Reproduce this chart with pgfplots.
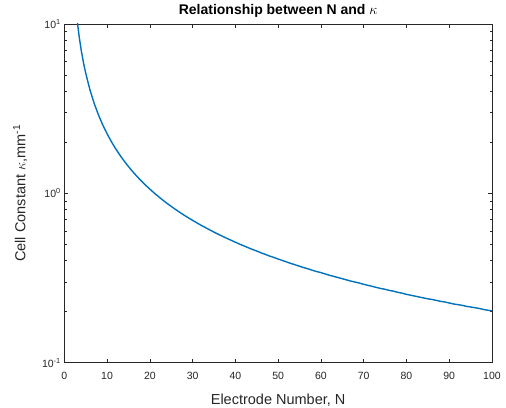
\documentclass[border=0pt]{standalone}
\usepackage{pgfplots}
\pgfplotsset{compat=1.18}
\usepackage{fontspec}
\setmainfont{Liberation Sans}
\definecolor{mblue}{rgb}{0,0.447,0.741}
\definecolor{axgray}{rgb}{0.15,0.15,0.15}
\begin{document}
\begin{tikzpicture}
\begin{axis}[
  name=ax,
  scale only axis,
  width=427.7pt, height=338.6pt,
  xmin=0, xmax=100,
  ymode=log, ymin=0.1, ymax=10,
  xtick={0,10,...,100},
  ytick={0.1,1,10},
  yticklabels={{10\textsuperscript{-1}},{10\textsuperscript{0}},{10\textsuperscript{1}}},
  /pgf/number format/assume math mode=true,
  tick align=inside,
  major tick length=4pt,
  minor tick length=2.5pt,
  axis line style={axgray, line width=0.6pt},
  every tick/.style={axgray, line width=0.5pt},
  tick label style={font=\fontsize{10.5}{12}\selectfont, text=axgray},
  xticklabel style={yshift=-6pt},
  label style={font=\fontsize{14.5}{16}\selectfont, text=axgray},
  xlabel={Electrode Number, N},
  ylabel={Cell Constant $\kappa$,mm\textsuperscript{-1}},
  title={\textbf{Relationship between N and $\kappa$}},
  title style={font=\fontsize{14}{16}\selectfont, yshift=-3pt},
  xlabel style={yshift=-8pt},
  ylabel style={yshift=8pt},
]
\addplot[mblue, line width=1.4pt] coordinates {
(3,10.526)(3.5,8.333)(4,6.897)(4.5,5.882)(5,5.128)(6,4.082)(7,3.390)(8,2.899)(9,2.532)(10,2.247)
(11,2.020)(12,1.835)(13,1.681)(14,1.550)(15,1.439)(16,1.342)(17,1.258)(18,1.183)(19,1.117)(20,1.058)
(21,1.005)(22,0.957)(23,0.913)(24,0.873)(25,0.837)(26,0.803)(27,0.772)(28,0.743)(29,0.717)(30,0.692)
(31,0.669)(32,0.647)(33,0.627)(34,0.608)(35,0.590)(36,0.573)(37,0.557)(38,0.542)(39,0.528)(40,0.514)
(41,0.501)(42,0.489)(43,0.477)(44,0.466)(45,0.456)(46,0.445)(47,0.436)(48,0.426)(49,0.418)(50,0.409)
(51,0.401)(52,0.393)(53,0.385)(54,0.378)(55,0.371)(56,0.364)(57,0.358)(58,0.351)(59,0.345)(60,0.340)
(61,0.334)(62,0.328)(63,0.323)(64,0.318)(65,0.313)(66,0.308)(67,0.303)(68,0.299)(69,0.295)(70,0.290)
(71,0.286)(72,0.282)(73,0.278)(74,0.274)(75,0.271)(76,0.267)(77,0.264)(78,0.260)(79,0.257)(80,0.253)
(81,0.250)(82,0.247)(83,0.244)(84,0.241)(85,0.238)(86,0.236)(87,0.233)(88,0.230)(89,0.228)(90,0.225)
(91,0.222)(92,0.220)(93,0.218)(94,0.215)(95,0.213)(96,0.211)(97,0.209)(98,0.206)(99,0.204)(100,0.202)
};
\end{axis}
\pgfresetboundingbox
\path[use as bounding box] ([shift={(-64.3pt,-44.4pt)}]ax.south west) rectangle ([shift={(14pt,24pt)}]ax.north east);
\end{tikzpicture}
\end{document}
